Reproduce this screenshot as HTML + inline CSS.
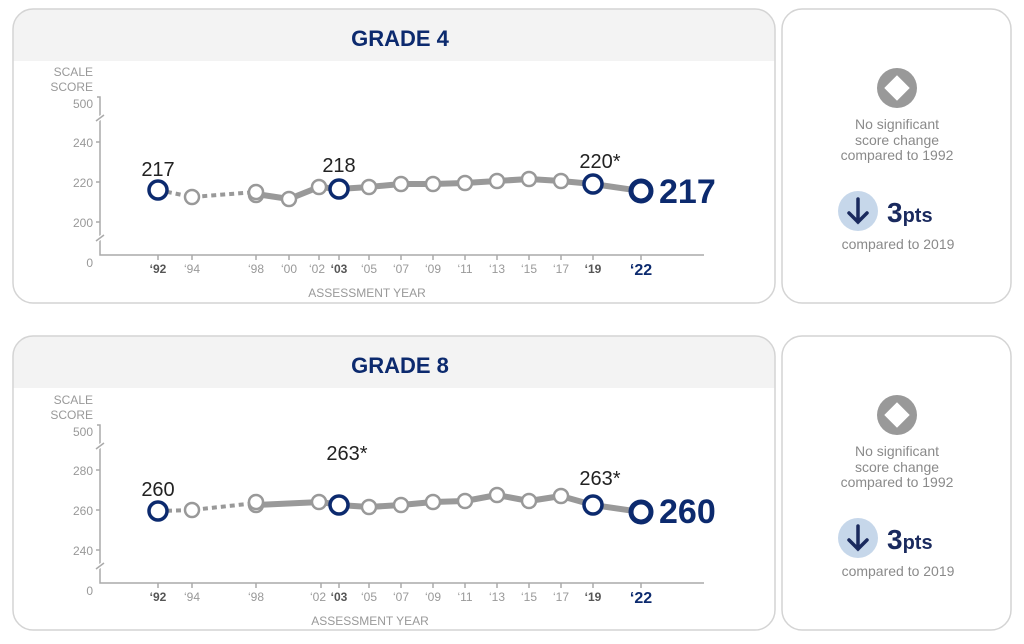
<!DOCTYPE html>
<html><head><meta charset="utf-8"><style>
body{margin:0;background:#fff;width:1024px;height:644px;overflow:hidden}
svg{display:block;font-family:"Liberation Sans","DejaVu Sans",sans-serif}
</style></head><body>
<svg width="1024" height="644" viewBox="0 0 1024 644">
<defs><clipPath id="c1"><rect x="13" y="9" width="762" height="294" rx="20"/></clipPath>
<clipPath id="c2"><rect x="13" y="336" width="762" height="294" rx="20"/></clipPath></defs>
<!-- panel 1 -->
<rect x="13" y="9" width="762" height="294" rx="20" fill="#fff"/>
<rect x="13" y="9" width="762" height="52" fill="#f3f3f3" clip-path="url(#c1)"/>
<rect x="13" y="9" width="762" height="294" rx="20" fill="none" stroke="#d4d4d4" stroke-width="1.5"/>
<text x="400" y="46" text-anchor="middle" font-size="22" font-weight="bold" fill="#0c2a6e">GRADE 4</text>
<g font-size="12" fill="#999" text-anchor="end">
<text x="93" y="76">SCALE</text><text x="93" y="91">SCORE</text>
<text x="93" y="108">500</text><text x="93" y="147">240</text><text x="93" y="187">220</text><text x="93" y="227">200</text><text x="93" y="267">0</text></g>
<g stroke="#aaa" stroke-width="1.5" fill="none">
<path d="M97 97H100V255H704"/><path d="M96 142H100M96 182H100M96 222H100"/>
<path d="M96 121L104 115M96 241L104 235" stroke="#fff" stroke-width="4"/>
<path d="M96 121L104 115M96 241L104 235"/>
<path d="M158 255v5M192 255v5M256 255v5M289 255v5M319 255v5M339 255v5M369 255v5M401 255v5M433 255v5M465 255v5M497 255v5M529 255v5M561 255v5M593 255v5M641 255v5"/></g>
<g font-size="12" fill="#999" text-anchor="middle">
<text x="158" y="273" font-weight="bold" fill="#555">‘92</text><text x="192" y="273">‘94</text><text x="256" y="273">‘98</text><text x="289" y="273">‘00</text><text x="317" y="273">‘02</text><text x="339" y="273" font-weight="bold" fill="#555">‘03</text><text x="369" y="273">‘05</text><text x="401" y="273">‘07</text><text x="433" y="273">‘09</text><text x="465" y="273">‘11</text><text x="497" y="273">‘13</text><text x="529" y="273">‘15</text><text x="561" y="273">‘17</text><text x="593" y="273" font-weight="bold" fill="#555">‘19</text>
<text x="641" y="275" font-weight="bold" font-size="16" fill="#0c2a6e">‘22</text>
<text x="367" y="297">ASSESSMENT YEAR</text></g>
<path d="M158 190L192 197L256 192" stroke="#999" stroke-width="4" stroke-dasharray="5 4" fill="none"/>
<path d="M256 194L289 199L319 187L339 189L369 187L401 184L433 184L465 183L497 181L529 179L561 181L593 184L641 191" stroke="#999" stroke-width="6" fill="none" stroke-linejoin="round"/>
<g fill="#fff" stroke="#999" stroke-width="2.5">
<circle cx="192" cy="197" r="7"/><circle cx="256" cy="195" r="7"/><circle cx="256" cy="192" r="7"/><circle cx="289" cy="199" r="7"/><circle cx="319" cy="187" r="7"/><circle cx="369" cy="187" r="7"/><circle cx="401" cy="184" r="7"/><circle cx="433" cy="184" r="7"/><circle cx="465" cy="183" r="7"/><circle cx="497" cy="181" r="7"/><circle cx="529" cy="179" r="7"/><circle cx="561" cy="181" r="7"/></g>
<g fill="#fff" stroke="#0c2a6e" stroke-width="3.5">
<circle cx="158" cy="190" r="9"/><circle cx="339" cy="189" r="9"/><circle cx="593" cy="184" r="9"/><circle cx="641" cy="191" r="10" stroke-width="5"/></g>
<g font-size="20" fill="#222" text-anchor="middle"><text x="158" y="176">217</text><text x="339" y="172">218</text><text x="600" y="168">220*</text></g>
<text x="659" y="203" font-size="34" font-weight="bold" fill="#0c2a6e">217</text>
<!-- panel 2 -->
<rect x="13" y="336" width="762" height="294" rx="20" fill="#fff"/>
<rect x="13" y="336" width="762" height="52" fill="#f3f3f3" clip-path="url(#c2)"/>
<rect x="13" y="336" width="762" height="294" rx="20" fill="none" stroke="#d4d4d4" stroke-width="1.5"/>
<text x="400" y="373" text-anchor="middle" font-size="22" font-weight="bold" fill="#0c2a6e">GRADE 8</text>
<g font-size="12" fill="#999" text-anchor="end">
<text x="93" y="404">SCALE</text><text x="93" y="419">SCORE</text>
<text x="93" y="436">500</text><text x="93" y="475">280</text><text x="93" y="515">260</text><text x="93" y="555">240</text><text x="93" y="595">0</text></g>
<g stroke="#aaa" stroke-width="1.5" fill="none">
<path d="M97 425H100V583H704"/><path d="M96 470H100M96 510H100M96 550H100"/>
<path d="M96 449L104 443M96 569L104 563" stroke="#fff" stroke-width="4"/>
<path d="M96 449L104 443M96 569L104 563"/>
<path d="M158 583v5M192 583v5M256 583v5M321 583v5M339 583v5M369 583v5M401 583v5M433 583v5M465 583v5M497 583v5M529 583v5M561 583v5M593 583v5M641 583v5"/></g>
<g font-size="12" fill="#999" text-anchor="middle">
<text x="158" y="601" font-weight="bold" fill="#555">‘92</text><text x="192" y="601">‘94</text><text x="256" y="601">‘98</text><text x="318" y="601">‘02</text><text x="339" y="601" font-weight="bold" fill="#555">‘03</text><text x="369" y="601">‘05</text><text x="401" y="601">‘07</text><text x="433" y="601">‘09</text><text x="465" y="601">‘11</text><text x="497" y="601">‘13</text><text x="529" y="601">‘15</text><text x="561" y="601">‘17</text><text x="593" y="601" font-weight="bold" fill="#555">‘19</text>
<text x="641" y="603" font-weight="bold" font-size="16" fill="#0c2a6e">‘22</text>
<text x="370" y="625">ASSESSMENT YEAR</text></g>
<path d="M158 511L192 510L256 503" stroke="#999" stroke-width="4" stroke-dasharray="5 4" fill="none"/>
<path d="M256 505L321 502L339 505L369 507L401 505L433 502L465 501L497 495L529 501L561 496L593 505L641 512" stroke="#999" stroke-width="6" fill="none" stroke-linejoin="round"/>
<g fill="#fff" stroke="#999" stroke-width="2.5">
<circle cx="192" cy="510" r="7"/><circle cx="256" cy="505" r="7"/><circle cx="256" cy="502" r="7"/><circle cx="319" cy="502" r="7"/><circle cx="369" cy="507" r="7"/><circle cx="401" cy="505" r="7"/><circle cx="433" cy="502" r="7"/><circle cx="465" cy="501" r="7"/><circle cx="497" cy="495" r="7"/><circle cx="529" cy="501" r="7"/><circle cx="561" cy="496" r="7"/></g>
<g fill="#fff" stroke="#0c2a6e" stroke-width="3.5">
<circle cx="158" cy="511" r="9"/><circle cx="339" cy="505" r="9"/><circle cx="593" cy="505" r="9"/><circle cx="641" cy="512" r="10" stroke-width="5"/></g>
<g font-size="20" fill="#222" text-anchor="middle"><text x="158" y="496">260</text><text x="347" y="460">263*</text><text x="600" y="485">263*</text></g>
<text x="659" y="523" font-size="34" font-weight="bold" fill="#0c2a6e">260</text>
<!-- side panels -->
<g>
<rect x="782" y="9" width="229" height="294" rx="20" fill="#fff" stroke="#d4d4d4" stroke-width="1.5"/>
<circle cx="897" cy="88" r="20" fill="#999"/><rect x="888" y="79" width="18" height="18" fill="#fff" transform="rotate(45 897 88)"/>
<g font-size="14" fill="#8a8a8a" text-anchor="middle"><text x="897" y="129">No significant</text><text x="897" y="145">score change</text><text x="897" y="160">compared to 1992</text><text x="898" y="249">compared to 2019</text></g>
<circle cx="858" cy="211" r="20" fill="#c6d7ea"/>
<path d="M858 199V222M849 213L858 222L867 213" stroke="#1a2a5e" stroke-width="3.5" fill="none" stroke-linecap="round"/>
<text x="887" y="222" font-size="28" font-weight="bold" fill="#1a2a5e">3<tspan font-size="20">pts</tspan></text>
</g>
<g transform="translate(0,327)">
<rect x="782" y="9" width="229" height="294" rx="20" fill="#fff" stroke="#d4d4d4" stroke-width="1.5"/>
<circle cx="897" cy="88" r="20" fill="#999"/><rect x="888" y="79" width="18" height="18" fill="#fff" transform="rotate(45 897 88)"/>
<g font-size="14" fill="#8a8a8a" text-anchor="middle"><text x="897" y="129">No significant</text><text x="897" y="145">score change</text><text x="897" y="160">compared to 1992</text><text x="898" y="249">compared to 2019</text></g>
<circle cx="858" cy="211" r="20" fill="#c6d7ea"/>
<path d="M858 199V222M849 213L858 222L867 213" stroke="#1a2a5e" stroke-width="3.5" fill="none" stroke-linecap="round"/>
<text x="887" y="222" font-size="28" font-weight="bold" fill="#1a2a5e">3<tspan font-size="20">pts</tspan></text>
</g>
</svg>
</body></html>
